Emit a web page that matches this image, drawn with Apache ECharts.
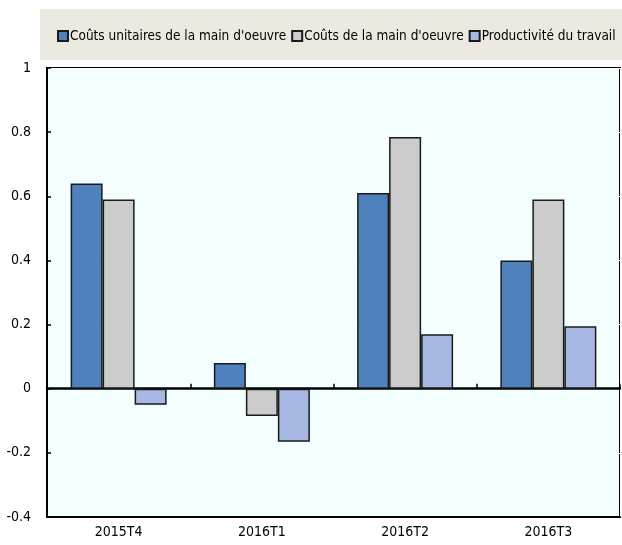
<!DOCTYPE html>
<html>
<head>
<meta charset="utf-8">
<script src="https://cdn.jsdelivr.net/npm/echarts@6/dist/echarts.min.js"></script>
<style>
  html, body { margin: 0; padding: 0; background: #fff; }
  #chart { width: 622px; height: 545px; }
</style>
</head>
<body>
<div id="chart"></div>
<script>
const categories = ['2015T4', '2016T1', '2016T2', '2016T3'];
const unitLabourCosts = [0.64, 0.08, 0.61, 0.40];
const labourCosts = [0.59, -0.085, 0.785, 0.59];
const labourProductivity = [-0.05, -0.165, 0.17, 0.195];
const seriesNames = ["Coûts unitaires de la main d'oeuvre", "Coûts de la main d'oeuvre", 'Productivité du travail'];

const font = '"Liberation Sans Narrow", "Arial Narrow", "DejaVu Sans Condensed", sans-serif';
const chart = echarts.init(document.getElementById('chart'));

const barStyle = color => ({ color: color, borderColor: '#1a1a1a', borderWidth: 1.5 });

chart.setOption({
    backgroundColor: '#fff',
    animation: false,
    graphic: [{
        type: 'rect', left: 40, top: 9, z: -1,
        shape: { width: 582, height: 51 },
        style: { fill: '#ECEAE0' }
    }],
    legend: {
        top: 24, left: 52, width: 600,
        itemWidth: 10, itemHeight: 10, itemGap: 5,
        textStyle: { fontFamily: font, fontSize: 13.5, color: '#000', padding: [0, 0, 0, -3] },
        data: seriesNames.map(n => ({ name: n, icon: 'rect' }))
    },
    grid: {
        left: 47, right: 2, top: 68, bottom: 28,
        show: true, backgroundColor: '#F3FEFF', borderColor: '#000', borderWidth: 2
    },
    xAxis: [{
        type: 'category', data: categories, position: 'bottom',
        axisLine: { onZero: false, lineStyle: { color: '#000', width: 2 } },
        axisTick: { show: false },
        splitLine: { show: true, lineStyle: { color: '#fff', width: 1 } },
        axisLabel: { fontFamily: font, fontSize: 14, color: '#000', margin: 8 }
    }, {
        type: 'category', data: categories, position: 'top',
        axisLine: { onZero: true, lineStyle: { color: '#000', width: 2.5 } },
        axisTick: { show: true, inside: false, length: 5, lineStyle: { color: '#000', width: 1.5 } },
        axisLabel: { show: false }
    }],
    yAxis: {
        type: 'value', min: -0.4, max: 1, interval: 0.2,
        axisLine: { show: true, lineStyle: { color: '#000', width: 2 } },
        axisTick: { show: true, inside: true, length: 4, lineStyle: { color: '#000', width: 1.5 } },
        splitLine: { show: true, lineStyle: { color: '#fff', width: 1 } },
        axisLabel: {
            fontFamily: font, fontSize: 14, color: '#000', margin: 16,
            formatter: v => String(Math.round(v * 10) / 10)
        }
    },
    series: [
        { name: seriesNames[0], type: 'bar', xAxisIndex: 0, data: unitLabourCosts, itemStyle: barStyle('#4F81BD'),
          barGap: '0%', barCategoryGap: '33%' },
        { name: seriesNames[1], type: 'bar', xAxisIndex: 0, data: labourCosts, itemStyle: barStyle('#CCCCCC') },
        { name: seriesNames[2], type: 'bar', xAxisIndex: 0, data: labourProductivity, itemStyle: barStyle('#A7B9E3') }
    ]
});
</script>
</body>
</html>
